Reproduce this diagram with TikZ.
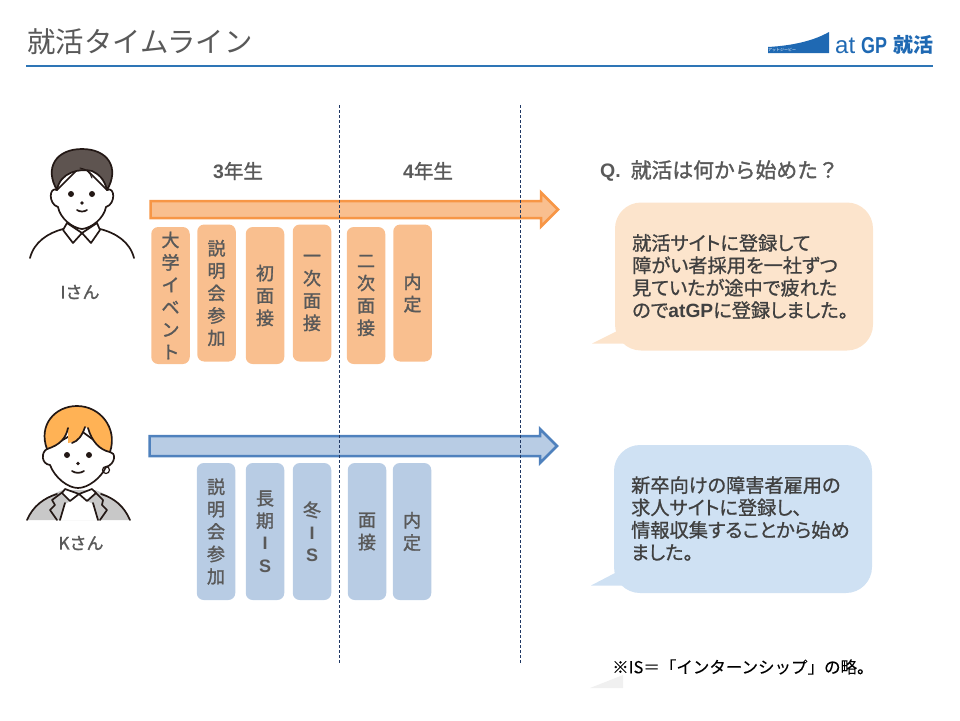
\documentclass[tikz,border=0pt]{standalone}
\usepackage{fontspec}
\setmainfont{Noto Sans CJK JP}
\newfontfamily\gothicfont{Noto Sans CJK JP}[FakeBold=1.5]
\newfontfamily\gothicpalt{Noto Sans CJK JP}[FakeBold=0.9,RawFeature=+palt]
\newfontfamily\gothicthin{Noto Sans CJK JP}[FakeBold=0.05]
\newfontfamily\latinfont{Liberation Sans}
\newcommand{\lat}[1]{{\latinfont\bfseries #1}}
\definecolor{txtgray}{HTML}{595959}
\definecolor{bubtxt}{HTML}{404040}
\definecolor{rulecol}{HTML}{2E75B6}
\definecolor{logocol}{HTML}{1F69B3}
\definecolor{dashcol}{HTML}{1F3864}
\definecolor{orline}{HTML}{F79646}
\definecolor{orfill}{HTML}{F9BF8F}
\definecolor{bubor}{HTML}{FCE4CC}
\definecolor{blline}{HTML}{4F81BD}
\definecolor{blfill}{HTML}{B8CCE4}
\definecolor{bubbl}{HTML}{CFE1F3}
\definecolor{hairdark}{HTML}{5E5450}
\definecolor{hairor}{HTML}{FFB255}
\definecolor{suitgray}{HTML}{C8C8C8}
\definecolor{inkcol}{HTML}{231815}
\tikzset{
  stepor/.style={fill=orfill, rounded corners=7pt, minimum width=38.5pt, minimum height=137pt,
    inner sep=0pt, align=center, text=txtgray, font=\fontsize{18}{22.4}\selectfont\gothicfont},
  stepbl/.style={stepor, fill=blfill},
  head/.style={text=txtgray, inner sep=0pt, font=\fontsize{19.5}{22}\selectfont\gothicfont},
  bubble/.style={rounded corners=26pt, minimum width=258pt, minimum height=148pt},
  bubtext/.style={anchor=west, inner sep=0pt, align=left, text=bubtxt,
    font=\fontsize{19.2}{22.4}\selectfont\gothicpalt},
  ink/.style={draw=inkcol, line width=1.7pt, line cap=round, line join=round},
  divider/.style={dashcol, line width=0.8pt, dash pattern=on 3pt off 2pt}
}
\begin{document}
\begin{tikzpicture}[x=1pt,y=-1pt]
\useasboundingbox (0,0) rectangle (960,720);
% title
\node (title) [anchor=west, inner sep=0pt, text=txtgray, font=\fontsize{28.4}{30}\selectfont] at (27,42) {就活タイムライン};
\coordinate (ruleL) at (26,66);
\coordinate (ruleR) at (933,66);
\draw [rulecol, line width=2pt] (ruleL) -- (ruleR);
% logo
\fill [logocol] (768,47) .. controls (795,45.5) and (815,40) .. (829,32) -- (829,53) -- (768,53) -- cycle;
\node (logosmall) [inner sep=0pt, text=white, font=\fontsize{4}{4}\selectfont] at (782,50) {アットジーピー};
\node (logoat) [anchor=base west, inner sep=0pt, text=logocol, font=\fontsize{24}{24}\selectfont\latinfont] at (835,53) {at};
\node (logogp) [anchor=base west, inner sep=0pt, text=logocol, font=\fontsize{23}{23}\selectfont\latinfont\bfseries] at (861,53) {\scalebox{0.78}[1]{GP}};
\node (logojob) [anchor=base west, inner sep=0pt, text=logocol, font=\fontsize{20}{20}\selectfont\bfseries] at (893,52.5) {就活};
% arrows
\draw [orline, fill=orfill, line width=2.5pt, line join=miter]
  (150.5,201) -- (541,201) -- (541,192.5) -- (558,209.5) -- (541,226.5) -- (541,218) -- (150.5,218) -- cycle;
\draw [blline, fill=blfill, line width=2.5pt, line join=miter]
  (149.5,436) -- (540,436) -- (540,429) -- (557,446) -- (540,463) -- (540,456) -- (149.5,456) -- cycle;
% dashed dividers
\draw [divider] (339,105) -- (339,663);
\draw [divider] (520,105) -- (520,663);
% year heads
\node (year3) [head] at (238,171) {\lat{3}年生};
\node (year4) [head] at (428,171) {\lat{4}年生};
\node (qhead) [head, anchor=west] at (600,171) {\lat{Q.}\hspace{10pt}\fontsize{20.8}{22}\selectfont 就活は何から始めた？};
% steps
\foreach \name/\x/\y/\txt in {a/170.5/295.5/{大\\学\\イ\\ベ\\ン\\ト}, b/216.5/293/{説\\明\\会\\参\\加},
    c/265/295.5/{初\\面\\接}, d/312/293/{一\\次\\面\\接}, e/366/295.5/{二\\次\\面\\接}, f/412.5/293/{内\\定}}
  \node (or\name) [stepor] at (\x,\y) {\txt};
\foreach \name/\x/\y/\txt in {b/216/531.5/{説\\明\\会\\参\\加}, c/265/531.5/{長\\期\\\lat{I}\\\lat{S}},
    d/312/531.5/{冬\\\lat{I}\\\lat{S}}, e/367/531.5/{面\\接}, f/412/531.5/{内\\定}}
  \node (bl\name) [stepbl] at (\x,\y) {\txt};
% bubbles
\fill [bubor] (592,343.5) -- (617,331) -- (632,343.5) -- cycle;
\node (bubA) [bubble, fill=bubor] at (744,276.5) {};
\node (txtA) [bubtext] at (632,276.5) {就活サイトに登録して\\障がい者採用を一社ずつ\\見ていたが途中で疲れた\\ので\lat{atGP}に登録しました。};
\fill [bubbl] (591,585.5) -- (615,573) -- (630,585.5) -- cycle;
\node (bubB) [bubble, fill=bubbl] at (743,519) {};
\node (txtB) [bubtext] at (631,518.5) {新卒向けの障害者雇用の\\求人サイトに登録し、\\情報収集することから始め\\ました。};
% note
\fill [black!6] (590,688) -- (623,675) -- (623,688) -- cycle;
\node (note) [anchor=west, inner sep=0pt, font=\fontsize{16.5}{18}\selectfont\gothicthin] at (612,667) {※IS＝「インターンシップ」の略。};
% person I
\draw [ink] (30,258) .. controls (34,242) and (48,233) .. (63,229);
\draw [ink] (134,258) .. controls (130,242) and (116,233) .. (100,229);
\draw [ink, fill=white] (57,190) .. controls (49,186) and (48,204) .. (58,207)
  .. controls (60,218) and (72,228) .. (82,229) .. controls (92,228) and (104,218) .. (106,207)
  .. controls (116,204) and (115,186) .. (107,190) -- (82,165) -- cycle;
\draw [ink, fill=hairdark] (57,190) .. controls (44,168) and (56,149) .. (82,149)
  .. controls (108,149) and (120,168) .. (107,190) .. controls (104,178) and (98,174) .. (92,171)
  .. controls (80,168) and (60,172) .. (57,190) -- cycle;
\draw [inkcol, line width=1pt, line cap=round] (80,168) .. controls (86,169) and (90,172) .. (92,178);
\draw [ink, fill=white] (67,223) -- (63,230) -- (73,243) -- (82,233) -- (91,243) -- (100,230) -- (97,223) -- (82,233) -- cycle;
\fill [inkcol] (71,194) circle [radius=3];
\fill [inkcol] (92,194) circle [radius=3];
\fill [inkcol] (82,203) circle [radius=1.8];
\draw [ink] (77,210) .. controls (80,212) and (84,212) .. (87,210);
\node (nameI) [head, font=\fontsize{17}{18}\selectfont\gothicfont] at (80,292) {Iさん};
% person K
\fill [suitgray] (27,520) .. controls (33,506) and (46,496) .. (63,490) -- (95,490)
  .. controls (112,496) and (124,506) .. (130,520) -- cycle;
\draw [ink] (27,520) .. controls (33,506) and (44,498) .. (57,494);
\draw [ink] (130,520) .. controls (124,506) and (114,498) .. (101,494);
\fill [white] (60,520) -- (65,504) -- (71,501) -- (79,494) -- (87,501) -- (93,504) -- (98,520) -- cycle;
\draw [ink] (64,491) -- (52,500) -- (55,505) -- (50,510) -- (57,520);
\draw [ink] (94,491) -- (103,500) -- (102,505) -- (107,510) -- (100,520);
\draw [ink] (65,503) -- (60,520);
\draw [ink] (93,503) -- (98,520);
\draw [ink, fill=white] (47,449) .. controls (41,452) and (41,464) .. (50,465)
  .. controls (55,478) and (68,488) .. (78,488) .. controls (88,488) and (101,478) .. (106,467)
  .. controls (116,464) and (116,452) .. (110,452) -- (80,430) -- cycle;
\draw [ink, fill=white] (65,489) -- (62,493) -- (70,501) -- (79,494) -- (87,501) -- (96,493) -- (92,489) -- (79,494) -- cycle;
\fill [hairor] (47,449) .. controls (38,425) and (55,406) .. (77,406)
  .. controls (100,406) and (118,428) .. (110,452) .. controls (100,450) and (92,442) .. (88,428)
  -- (85,427) .. controls (82,436) and (78,442) .. (68,443) -- (68,428) .. controls (66,438) and (60,445) .. (47,449) -- cycle;
\draw [ink] (47,449) .. controls (38,425) and (55,406) .. (77,406)
  .. controls (100,406) and (118,428) .. (110,452) .. controls (100,450) and (92,442) .. (88,428);
\draw [ink] (47,449) .. controls (60,445) and (66,438) .. (68,428);
\draw [ink] (85,427) .. controls (82,436) and (78,441) .. (72,443);
\draw [inkcol, line width=1.2pt] (106,470) circle [radius=3.5];
\fill [inkcol] (67,455) circle [radius=3];
\fill [inkcol] (89,455) circle [radius=3];
\fill [inkcol] (78,463.5) circle [radius=1.8];
\draw [ink] (72,471) .. controls (76,473.5) and (80,473.5) .. (84,471);
\node (nameK) [head, font=\fontsize{17}{18}\selectfont\gothicfont] at (81,543) {Kさん};
\end{tikzpicture}
\end{document}
